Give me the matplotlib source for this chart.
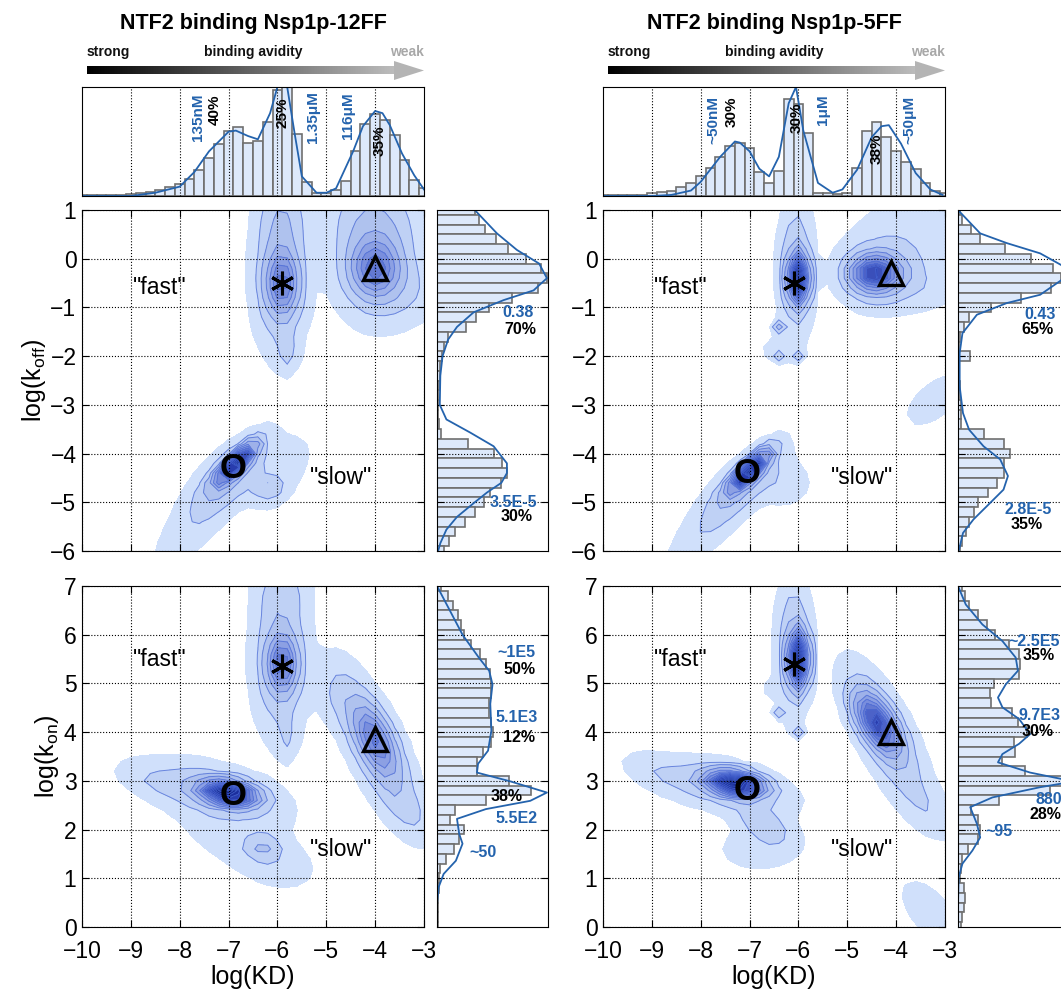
import numpy as np
import matplotlib
matplotlib.use('Agg')
import matplotlib.pyplot as plt
from matplotlib.colors import LinearSegmentedColormap
from matplotlib.patches import Polygon

plt.rcParams['font.family'] = ['Liberation Sans', 'DejaVu Sans']
plt.rcParams['mathtext.default'] = 'regular'

W, H = 1061, 990
BLUE = '#2463ad'
BAR_FACE = '#dde9fb'
BAR_EDGE = '#6f6f6f'

# ---- top histograms of log(KD), bins of 0.2 from -10 to -3 ----
kd_bins = np.round(np.arange(-10, -2.95, 0.2), 1)
kd_12ff = [0.005, 0.005, 0.005, 0.005, 0.01, 0.02, 0.03, 0.04, 0.055, 0.08,
           0.11, 0.16, 0.24, 0.35, 0.48, 0.6, 0.63, 0.49, 0.5, 0.68,
           0.97, 1.1, 0.57, 0.13, 0.025, 0.03, 0.055, 0.14, 0.41, 0.66,
           0.75, 0.7, 0.56, 0.33, 0.15, 0.07]
kd_5ff = [0.005, 0.005, 0.005, 0.008, 0.01, 0.025, 0.04, 0.05, 0.08, 0.12,
          0.18, 0.26, 0.36, 0.46, 0.49, 0.44, 0.22, 0.12, 0.23, 0.89,
          0.84, 0.58, 0.025, 0.025, 0.02, 0.025, 0.26, 0.6, 0.68, 0.54,
          0.41, 0.31, 0.25, 0.12, 0.05, 0.025]
fit_kd_12ff_x = [-10, -9.0, -8.5, -8.0, -7.7, -7.4, -7.0, -6.85, -6.6, -6.4, -6.15, -6.0,
                 -5.9, -5.8, -5.65, -5.5, -5.2, -5.0, -4.8, -4.45, -4.25, -4.0, -3.85,
                 -3.7, -3.45, -3.2, -3.0]
fit_kd_12ff_y = [0, 0.0, 0.03, 0.086, 0.22, 0.41, 0.59, 0.6, 0.55, 0.52, 0.76, 1.0,
                 1.12, 1.0, 0.58, 0.18, 0.03, 0.03, 0.07, 0.41, 0.64, 0.78, 0.76,
                 0.65, 0.39, 0.19, 0.06]
fit_kd_5ff_x = [-10, -9.0, -8.6, -8.2, -8.0, -7.6, -7.3, -7.2, -7.0, -6.8, -6.6, -6.4,
                -6.2, -6.05, -5.9, -5.6, -5.3, -5.1, -4.8, -4.5, -4.3, -4.15, -3.9,
                -3.6, -3.3, -3.05]
fit_kd_5ff_y = [0, 0.0, 0.01, 0.05, 0.13, 0.36, 0.5, 0.49, 0.41, 0.25, 0.18, 0.36,
                0.85, 1.0, 0.6, 0.12, 0.03, 0.06, 0.24, 0.54, 0.64, 0.65, 0.48,
                0.21, 0.06, 0.01]
kd_labels_12ff = [(-7.63, 0.72, '135nM', BLUE), (-7.28, 0.79, '40%', 'k'),
                  (-5.9, 0.76, '25%', 'k'), (-5.28, 0.72, '1.35\u03bcM', BLUE),
                  (-4.56, 0.74, '116\u03bcM', BLUE), (-3.91, 0.51, '35%', 'k')]
kd_labels_5ff = [(-7.75, 0.70, '~50nM', BLUE), (-7.36, 0.77, '30%', 'k'),
                 (-6.03, 0.72, '30%', 'k'), (-5.5, 0.79, '1\u03bcM', BLUE),
                 (-4.4, 0.43, '38%', 'k'), (-3.72, 0.70, '~50\u03bcM', BLUE)]

# ---- side histograms of log(koff), bins of 0.2 from 1 down to -6 ----
koff_bins = np.round(np.arange(1.0, -6.05, -0.2), 1)
koff_12ff = [0.34, 0.38, 0.43, 0.53, 0.64, 0.8, 0.94, 0.99, 0.91, 0.68,
             0.47, 0.35, 0.26, 0.1, 0.06, 0.045, 0.03, 0.025, 0.02, 0.012,
             0.01, 0.012, 0.02, 0.04, 0.28, 0.51, 0.59, 0.63, 0.58, 0.48,
             0.42, 0.34, 0.25, 0.16, 0.11, 0.06]
koff_5ff = [0.02, 0.04, 0.12, 0.2, 0.42, 0.66, 0.86, 0.93, 0.84, 0.57,
            0.3, 0.1, 0.05, 0.02, 0.01, 0.11, 0.01, 0.01, 0.015, 0.02,
            0.03, 0.025, 0.03, 0.23, 0.41, 0.47, 0.41, 0.41, 0.35, 0.27,
            0.18, 0.14, 0.1, 0.07, 0.04, 0.02]
fit_koff_12ff_y = [1.0, 0.52, 0.18, -0.1, -0.4, -0.65, -0.85, -1.1, -1.4, -1.66, -2.0,
                   -2.4, -3.0, -3.3, -3.57, -3.85, -4.2, -4.4, -4.6, -4.8, -5.0, -5.3,
                   -5.56, -5.84, -6.0]
fit_koff_12ff_w = [0.34, 0.54, 0.72, 0.92, 0.99, 0.87, 0.6, 0.33, 0.18, 0.1, 0.05,
                   0.03, 0.025, 0.085, 0.3, 0.51, 0.63, 0.63, 0.58, 0.45, 0.34, 0.18,
                   0.085, 0.03, 0.01]
fit_koff_5ff_y = [1.0, 0.52, 0.32, 0.11, -0.13, -0.3, -0.74, -0.91, -1.15, -1.53, -1.94,
                  -2.62, -3.17, -3.51, -3.85, -4.12, -4.46, -4.74, -5.08, -5.35, -5.63,
                  -5.97]
fit_koff_5ff_w = [0.0, 0.2, 0.44, 0.74, 0.93, 1.02, 0.74, 0.44, 0.17, 0.04, 0.015,
                  0.015, 0.045, 0.1, 0.23, 0.38, 0.45, 0.41, 0.26, 0.14, 0.045, 0.01]
koff_labels_12ff = [(0.73, -1.1, '0.38', BLUE), (0.75, -1.45, '70%', 'k'),
                    (0.69, -5.0, '3.5E-5', BLUE), (0.72, -5.3, '30%', 'k')]
koff_labels_5ff = [(0.74, -1.15, '0.43', BLUE), (0.72, -1.46, '65%', 'k'),
                   (0.63, -5.15, '2.8E-5', BLUE), (0.62, -5.45, '35%', 'k')]

# ---- side histograms of log(kon), bins of 0.2 from 7 down to 0 ----
kon_bins = np.round(np.arange(7.0, -0.05, -0.2), 1)
kon_12ff = [0.04, 0.1, 0.14, 0.19, 0.22, 0.24, 0.31, 0.39, 0.44, 0.48,
            0.49, 0.49, 0.47, 0.47, 0.49, 0.5, 0.49, 0.41, 0.36, 0.36,
            0.65, 0.85, 0.44, 0.16, 0.12, 0.24, 0.2, 0.15, 0.08, 0.03,
            0.02, 0.015, 0.01, 0.01, 0.01, 0.01]
kon_5ff = [0.04, 0.06, 0.1, 0.18, 0.26, 0.33, 0.46, 0.55, 0.56, 0.55,
           0.32, 0.29, 0.3, 0.49, 0.54, 0.62, 0.5, 0.51, 0.4, 0.6,
           1.0, 0.83, 0.37, 0.12, 0.18, 0.2, 0.18, 0.09, 0.04, 0.03,
           0.02, 0.05, 0.06, 0.05, 0.04, 0.03]
fit_kon_12ff_y = [7.0, 6.0, 5.52, 5.26, 4.98, 4.58, 4.03, 3.62, 3.35, 3.17, 2.99, 2.76,
                  2.59, 2.42, 2.22, 1.91, 1.71, 1.36, 1.09, 0.82, 0.48, 0.0]
fit_kon_12ff_w = [0.0, 0.23, 0.38, 0.47, 0.5, 0.48, 0.49, 0.46, 0.37, 0.36, 0.66, 0.99,
                  0.84, 0.44, 0.18, 0.2, 0.23, 0.17, 0.06, 0.015, 0.0, 0.0]
fit_kon_5ff_y = [7.0, 6.62, 6.21, 5.87, 5.53, 5.26, 4.98, 4.71, 4.51, 4.27, 3.96, 3.76,
                 3.55, 3.38, 3.17, 3.04, 2.97, 2.87, 2.66, 2.46, 2.12, 1.84, 1.57,
                 1.3, 1.02, 0.48, 0.0]
fit_kon_5ff_w = [0.0, 0.07, 0.22, 0.4, 0.52, 0.54, 0.43, 0.36, 0.4, 0.55, 0.65, 0.55,
                 0.4, 0.36, 0.65, 0.93, 1.0, 0.74, 0.31, 0.11, 0.17, 0.2, 0.13,
                 0.04, 0.006, 0.0, 0.0]
kon_labels_12ff = [(0.72, 5.64, '~1E5', BLUE), (0.74, 5.28, '50%', 'k'),
                   (0.72, 4.3, '5.1E3', BLUE), (0.74, 3.9, '12%', 'k'),
                   (0.63, 2.67, '38%', 'k'), (0.72, 2.22, '5.5E2', BLUE),
                   (0.41, 1.52, '~50', BLUE)]
kon_labels_5ff = [(0.69, 5.86, '~2.5E5', BLUE), (0.73, 5.58, '35%', 'k'),
                  (0.73, 4.34, '9.7E3', BLUE), (0.72, 4.02, '30%', 'k'),
                  (0.82, 2.62, '880', BLUE), (0.79, 2.31, '28%', 'k'),
                  (0.37, 1.97, '~95', BLUE)]

# ---- 2D population clusters: (KD, rate, sx, sy, rho, height) ----
blobs_12ff_off = [(-5.9, -0.5, 0.2, 0.4, 0.0, 0.45), (-5.95, -0.35, 0.32, 0.9, 0.0, 0.2),
                  (-5.8, -1.9, 0.12, 0.25, 0.0, 0.1), (-5.9, 0.9, 0.3, 0.5, 0.0, 0.1),
                  (-4.0, -0.2, 0.3, 0.35, 0.0, 0.45), (-4.0, 0.1, 0.5, 0.75, 0.0, 0.22),
                  (-3.4, -0.7, 0.5, 0.4, 0.0, 0.06), (-4.1, 1.0, 0.6, 0.5, 0.0, 0.06),
                  (-6.85, -4.2, 0.25, 0.25, 0.85, 1.2), (-7.0, -4.5, 0.5, 0.5, 0.7, 0.2),
                  (-7.8, -5.6, 0.5, 0.5, 0.7, 0.05), (-6.2, -4.7, 0.2, 0.15, 0.0, 0.14),
                  (-5.9, -4.4, 0.4, 0.5, 0.6, 0.05)]
blobs_12ff_on = [(-5.9, 5.4, 0.18, 0.35, 0.0, 0.5), (-5.95, 5.5, 0.32, 0.9, 0.0, 0.2),
                 (-5.8, 3.9, 0.12, 0.3, 0.0, 0.07), (-5.9, 6.9, 0.35, 0.4, 0.0, 0.08),
                 (-4.0, 3.85, 0.28, 0.45, -0.6, 0.42), (-4.0, 3.7, 0.5, 0.9, -0.75, 0.2),
                 (-3.3, 2.4, 0.35, 0.4, -0.6, 0.06), (-4.8, 4.8, 0.25, 0.4, 0.0, 0.05),
                 (-7.0, 2.75, 0.35, 0.15, -0.3, 1.2), (-7.3, 2.8, 0.8, 0.35, -0.5, 0.16),
                 (-8.6, 3.0, 0.45, 0.25, -0.5, 0.05), (-6.3, 1.65, 0.22, 0.15, 0.0, 0.14),
                 (-6.9, 2.0, 0.8, 0.6, -0.5, 0.05), (-6.0, 1.3, 0.45, 0.3, -0.3, 0.05)]
blobs_5ff_off = [(-6.0, -0.4, 0.12, 0.3, 0.0, 1.2), (-6.05, -0.2, 0.2, 0.85, 0.0, 0.18),
                 (-6.4, -1.4, 0.08, 0.08, 0.0, 0.2), (-6.4, -2.0, 0.08, 0.08, 0.0, 0.12),
                 (-6.0, -2.0, 0.08, 0.08, 0.0, 0.12), (-6.5, -1.85, 0.25, 0.2, 0.0, 0.03),
                 (-4.45, -0.3, 0.3, 0.22, 0.0, 0.75), (-4.3, -0.3, 0.5, 0.42, 0.0, 0.2),
                 (-3.7, 0.5, 0.7, 0.55, 0.0, 0.05), (-3.3, -0.6, 0.4, 0.3, 0.0, 0.04),
                 (-7.0, -4.35, 0.25, 0.25, 0.85, 1.3), (-7.2, -4.7, 0.5, 0.5, 0.75, 0.18),
                 (-8.0, -5.7, 0.5, 0.5, 0.75, 0.05), (-6.3, -4.6, 0.35, 0.3, 0.0, 0.06),
                 (-3.2, -2.9, 0.45, 0.4, 0.6, 0.045)]
blobs_5ff_on = [(-6.0, 5.5, 0.12, 0.35, 0.0, 1.2), (-6.1, 5.8, 0.2, 0.85, 0.0, 0.17),
                (-6.4, 4.4, 0.08, 0.08, 0.0, 0.14), (-6.0, 4.0, 0.08, 0.08, 0.0, 0.14),
                (-6.6, 4.9, 0.15, 0.15, 0.0, 0.03),
                (-4.4, 4.2, 0.28, 0.38, -0.6, 0.75), (-4.2, 3.9, 0.5, 0.85, -0.75, 0.18),
                (-3.3, 2.4, 0.4, 0.4, -0.6, 0.05),
                (-7.3, 2.95, 0.35, 0.15, -0.3, 1.3), (-7.6, 2.9, 0.85, 0.33, -0.5, 0.15),
                (-8.9, 3.2, 0.45, 0.25, -0.5, 0.04), (-6.7, 2.1, 0.35, 0.25, -0.5, 0.14),
                (-6.8, 1.6, 0.55, 0.3, 0.0, 0.05), (-3.3, 0.3, 0.45, 0.5, -0.6, 0.045)]

# cluster symbols: asterisk, triangle, circle
sym_12ff_off = [(-5.9, -0.5), (-4.0, -0.2), (-6.9, -4.3)]
sym_12ff_on = [(-5.9, 5.35), (-4.0, 3.85), (-6.9, 2.7)]
sym_5ff_off = [(-6.1, -0.5), (-4.1, -0.3), (-7.05, -4.4)]
sym_5ff_on = [(-6.1, 5.4), (-4.1, 4.0), (-7.05, 2.8)]
fast_slow_off = [(-8.4, -0.6), (-4.7, -4.5)]
fast_slow_on = [(-8.4, 5.5), (-4.7, 1.6)]

levels = [0.02, 0.08, 0.16, 0.26, 0.36, 0.46, 0.56, 0.66, 0.76, 0.86,
          0.96, 1.06, 1.16, 1.26, 1.4, 10]
blue_map = LinearSegmentedColormap.from_list(
    'fills', ['#d0e0fb', '#a9bcec', '#8095e0', '#4d63c8', '#2236a8', '#0a1a82', '#000b58'])
band_colors = [blue_map(t) for t in np.linspace(0, 1, len(levels) - 1)]

fig = plt.figure(figsize=(W / 100, H / 100), dpi=100)


def px_axes(x0, y0, x1, y1):
    return fig.add_axes([x0 / W, 1 - y1 / H, (x1 - x0) / W, (y1 - y0) / H])


def density(blobs, ylim):
    xs = np.arange(-10.4, -2.55, 0.2)
    ys = np.arange(ylim[0] - 0.4, ylim[1] + 0.45, 0.2)
    X, Y = np.meshgrid(xs, ys)
    Z = np.zeros_like(X)
    for mx, my, sx, sy, rho, amp in blobs:
        u = (X - mx) / sx
        v = (Y - my) / sy
        Z += amp * np.exp(-0.5 * (u * u - 2 * rho * u * v + v * v) / (1 - rho * rho))
    return X, Y, Z


def kd_hist(ax, counts, cx, cy, labels):
    ax.bar(kd_bins, counts, width=0.2, color=BAR_FACE, edgecolor=BAR_EDGE, linewidth=1.2)
    ax.plot(cx, cy, color=BLUE, lw=1.3)
    ax.set_xlim(-10, -3)
    ax.set_ylim(0, 1)
    ax.set_xticks(range(-9, -3))
    ax.set_yticks([])
    ax.xaxis.grid(True, ls=':', color='k', lw=0.8)
    ax.tick_params(length=0, labelbottom=False)
    for x, y, s, c in labels:
        ax.text(x, y, s, rotation=90, color=c, ha='center', va='center',
                fontsize=11, fontweight='bold', transform=ax.get_xaxis_transform())


def rate_hist(ax, bins, counts, fy, fw, ylim, labels):
    ax.barh(bins, counts, height=0.2, color=BAR_FACE, edgecolor=BAR_EDGE, linewidth=1.2)
    ax.plot(fw, fy, color=BLUE, lw=1.3)
    ax.set_xlim(0, 1)
    ax.set_ylim(*ylim)
    ax.set_yticks(range(ylim[0] + 1, ylim[1]))
    ax.set_xticks([])
    ax.yaxis.grid(True, ls=':', color='k', lw=0.8)
    ax.tick_params(direction='in', left=True, right=True, length=5,
                   labelleft=False)
    for x, y, s, c in labels:
        ax.text(x, y, s, color=c, ha='center', va='center', fontsize=11.5,
                fontweight='bold', transform=ax.get_yaxis_transform())


def main_panel(ax, blobs, ylim, syms, words, bottom):
    X, Y, Z = density(blobs, ylim)
    ax.contourf(X, Y, Z, levels=levels, colors=band_colors)
    ax.contour(X, Y, Z, levels=levels[1:-1], colors='#4b6bd6', linewidths=0.7, alpha=0.75)
    ax.set_xlim(-10, -3)
    ax.set_ylim(*ylim)
    ax.set_xticks(range(-10, -2))
    ax.set_yticks(range(ylim[0], ylim[1] + 1))
    ax.set_axisbelow(False)
    ax.grid(True, ls=':', color='k', lw=0.8)
    ax.tick_params(direction='in', top=True, right=True, length=5, labelsize=16.5,
                   labelbottom=bottom, pad=4)
    ax.tick_params(axis='x', pad=9)
    (sx, sy), (tx, ty), (ox, oy) = syms
    ax.plot(sx, sy, marker=(6, 2, 0), ms=17, mew=2.2, color='k', ls='none')
    ax.plot(tx, ty, marker='^', ms=17, mfc='none', mec='k', mew=2.4, ls='none')
    ax.text(ox, oy, 'O', fontsize=25, fontweight='bold', ha='center', va='center')
    ax.text(words[0][0], words[0][1], '"fast"', fontsize=16.5, ha='center', va='center')
    ax.text(words[1][0], words[1][1], '"slow"', fontsize=16.5, ha='center', va='center')


def avidity_arrow(x0, x1, title):
    fig.text((x0 + x1) / 2 / W, 1 - 23 / H, title, ha='center', va='center',
             fontsize=15.5, fontweight='bold')
    fig.text((x0 + 5) / W, 1 - 52 / H, 'strong', ha='left', va='center',
             fontsize=10, fontweight='bold', color='#111111')
    fig.text((x0 + x1) / 2 / W, 1 - 52 / H, 'binding avidity', ha='center', va='center',
             fontsize=10, fontweight='bold', color='#111111')
    fig.text(x1 / W, 1 - 52 / H, 'weak', ha='right', va='center',
             fontsize=10, fontweight='bold', color='#a8a8a8')
    ax = px_axes(x0 + 5, 60, x1, 81)
    L = x1 - x0 - 5
    ax.imshow(np.linspace(0, 1, 256)[None, :], extent=[0, L - 28, -4, 4], aspect='auto',
              cmap=LinearSegmentedColormap.from_list('g', ['#000000', '#bdbdbd']))
    ax.add_patch(Polygon([(L - 30, -9.5), (L, 0), (L - 30, 9.5)], closed=True,
                         color='#b4b4b4', lw=0))
    ax.set_xlim(0, L)
    ax.set_ylim(-10.5, 10.5)
    ax.axis('off')


columns = [
    (0, kd_12ff, fit_kd_12ff_x, fit_kd_12ff_y, kd_labels_12ff,
     koff_12ff, fit_koff_12ff_y, fit_koff_12ff_w, koff_labels_12ff,
     kon_12ff, fit_kon_12ff_y, fit_kon_12ff_w, kon_labels_12ff,
     blobs_12ff_off, blobs_12ff_on, sym_12ff_off, sym_12ff_on,
     'NTF2 binding Nsp1p-12FF'),
    (521, kd_5ff, fit_kd_5ff_x, fit_kd_5ff_y, kd_labels_5ff,
     koff_5ff, fit_koff_5ff_y, fit_koff_5ff_w, koff_labels_5ff,
     kon_5ff, fit_kon_5ff_y, fit_kon_5ff_w, kon_labels_5ff,
     blobs_5ff_off, blobs_5ff_on, sym_5ff_off, sym_5ff_on,
     'NTF2 binding Nsp1p-5FF'),
]

for (dx, kd, kx, ky, kl, off, offy, offw, offl, on, ony, onw, onl,
     b_off, b_on, s_off, s_on, title) in columns:
    avidity_arrow(82 + dx, 424 + dx, title)
    kd_hist(px_axes(82 + dx, 87, 424 + dx, 196), kd, kx, ky, kl)
    ax_off = px_axes(82 + dx, 210, 424 + dx, 551)
    main_panel(ax_off, b_off, (-6, 1), s_off, fast_slow_off, False)
    rate_hist(px_axes(437 + dx, 210, 548 + dx, 551), koff_bins, off, offy, offw,
              (-6, 1), offl)
    ax_on = px_axes(82 + dx, 586, 424 + dx, 927)
    main_panel(ax_on, b_on, (0, 7), s_on, fast_slow_on, True)
    rate_hist(px_axes(437 + dx, 586, 548 + dx, 927), kon_bins, on, ony, onw,
              (0, 7), onl)
    ax_on.set_xlabel('log(KD)', fontsize=18, labelpad=2)
    if dx == 0:
        ax_off.set_ylabel('log(k$_{off}$)', fontsize=18, labelpad=2)
        ax_on.set_ylabel('log(k$_{on}$)', fontsize=18, labelpad=2)

fig.savefig('out.png', dpi=100)
